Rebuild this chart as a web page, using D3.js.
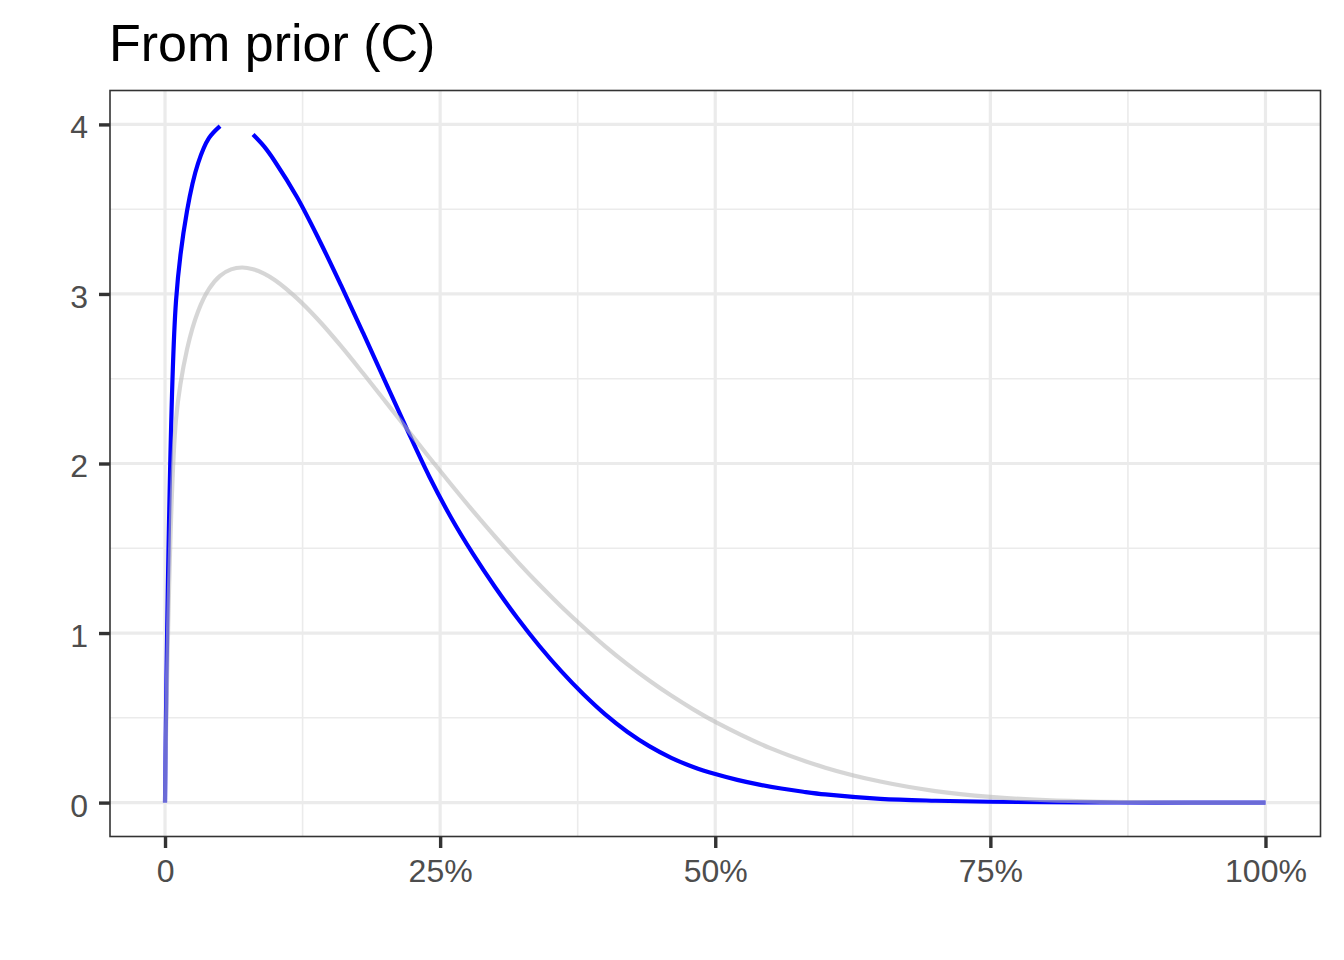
<!DOCTYPE html>
<html>
<head>
<meta charset="utf-8">
<script src="https://cdn.jsdelivr.net/npm/d3@7"></script>
<style>
  body { margin: 0; background: #fff; }
  text { font-family: "Liberation Sans", Arial, Helvetica, sans-serif; }
</style>
</head>
<body>
<script>
var width = 1344,
    height = 960;

// values
var title = "From prior (C)";

var xTicks = [0, 0.25, 0.5, 0.75, 1];
var xTickLabels = ["0", "25%", "50%", "75%", "100%"];
var xMinor = [0.125, 0.375, 0.625, 0.875];
var yTicks = [0, 1, 2, 3, 4];
var yMinor = [0.5, 1.5, 2.5, 3.5];
var yMax = 4;

var blueX = [0, 0.01, 0.02, 0.03, 0.04, 0.05, 0.06, 0.07, 0.08, 0.09, 0.10, 0.12, 0.14, 0.16, 0.18,
    0.20, 0.22, 0.24, 0.26, 0.28, 0.30, 0.32, 0.34, 0.36, 0.38, 0.40, 0.42, 0.44, 0.46, 0.48,
    0.50, 0.52, 0.54, 0.56, 0.58, 0.60, 0.65, 0.70, 0.75, 0.80, 0.85, 0.90, 0.95, 1.00];
var blueY = [0, 2.96, 3.49, 3.77, 3.92, 3.99, 4.03, 4.02, 3.94, 3.87, 3.78, 3.57, 3.32, 3.05, 2.77,
    2.485, 2.20, 1.925, 1.68, 1.465, 1.27, 1.09, 0.925, 0.775, 0.64, 0.52, 0.418, 0.333, 0.264, 0.21,
    0.168, 0.134, 0.106, 0.083, 0.064, 0.048, 0.022, 0.011, 0.005, 0.002, 0.0007, 0.0002, 0.00005, 0];

var grayX = [0, 0.01, 0.02, 0.03, 0.04, 0.05, 0.06, 0.07, 0.08, 0.09, 0.10, 0.12, 0.14, 0.16, 0.18,
    0.20, 0.22, 0.24, 0.26, 0.28, 0.30, 0.32, 0.34, 0.36, 0.38, 0.40, 0.42, 0.44, 0.46, 0.48,
    0.50, 0.55, 0.60, 0.65, 0.70, 0.75, 0.80, 0.85, 0.90, 0.95, 1.00];
var grayY = [0, 2.261, 2.673, 2.897, 3.030, 3.107, 3.145, 3.156, 3.146, 3.120, 3.081, 2.974, 2.842, 2.692, 2.532,
    2.368, 2.202, 2.037, 1.876, 1.719, 1.568, 1.423, 1.286, 1.157, 1.036, 0.922, 0.817, 0.720, 0.631, 0.550,
    0.476, 0.321, 0.206, 0.124, 0.068, 0.0336, 0.014, 0.0045, 0.0009, 0.00006, 0];

var panel = {left: 110, top: 90.5, right: 1320.5, bottom: 836.5};

var svg = d3.select('body')
    .append('svg')
    .attr('width', width)
    .attr('height', height);

var x = d3.scaleLinear()
    .domain([-0.05, 1.05])
    .range([panel.left, panel.right]);

var y = d3.scaleLinear()
    .domain([-0.2, 4.2])
    .range([panel.bottom, panel.top]);

svg.append('rect')
    .attr('x', 0).attr('y', 0)
    .attr('width', width).attr('height', height)
    .attr('fill', '#fff');

// grid
var grid = svg.append('g');
grid.selectAll('.xminor').data(xMinor).enter().append('line')
    .attr('x1', d => x(d)).attr('x2', d => x(d))
    .attr('y1', panel.top).attr('y2', panel.bottom)
    .attr('stroke', '#ebebeb').attr('stroke-width', 1.6);
grid.selectAll('.yminor').data(yMinor).enter().append('line')
    .attr('x1', panel.left).attr('x2', panel.right)
    .attr('y1', d => y(d)).attr('y2', d => y(d))
    .attr('stroke', '#ebebeb').attr('stroke-width', 1.6);
grid.selectAll('.xmajor').data(xTicks).enter().append('line')
    .attr('x1', d => x(d)).attr('x2', d => x(d))
    .attr('y1', panel.top).attr('y2', panel.bottom)
    .attr('stroke', '#ebebeb').attr('stroke-width', 3.2);
grid.selectAll('.ymajor').data(yTicks).enter().append('line')
    .attr('x1', panel.left).attr('x2', panel.right)
    .attr('y1', d => y(d)).attr('y2', d => y(d))
    .attr('stroke', '#ebebeb').attr('stroke-width', 3.2);

// curves, values above the y limit are dropped like in ggplot
var line = d3.line()
    .defined(d => d[1] <= yMax)
    .x(d => x(d[0]))
    .y(d => y(d[1]))
    .curve(d3.curveCatmullRom.alpha(0.5));

var blue = blueX.map((v, i) => [v, blueY[i]]);
var gray = grayX.map((v, i) => [v, grayY[i]]);

svg.append('path')
    .datum(blue)
    .attr('d', line)
    .attr('fill', 'none')
    .attr('stroke', '#0000ff')
    .attr('stroke-width', 4.2);

svg.append('path')
    .datum(gray)
    .attr('d', line)
    .attr('fill', 'none')
    .attr('stroke', '#b8b8b8')
    .attr('stroke-opacity', 0.58)
    .attr('stroke-width', 4.2);

// border
svg.append('rect')
    .attr('x', panel.left).attr('y', panel.top)
    .attr('width', panel.right - panel.left)
    .attr('height', panel.bottom - panel.top)
    .attr('fill', 'none')
    .attr('stroke', '#333333')
    .attr('stroke-width', 1.6);

// axes
var xAxis = d3.axisBottom(x)
    .tickValues(xTicks)
    .tickFormat((d, i) => xTickLabels[i])
    .tickSize(11.5)
    .tickPadding(11);

var yAxis = d3.axisLeft(y)
    .tickValues(yTicks)
    .tickFormat(d3.format('d'))
    .tickSize(11)
    .tickPadding(11);

var gx = svg.append('g')
    .attr('transform', 'translate(0,' + panel.bottom + ')')
    .call(xAxis);
var gy = svg.append('g')
    .attr('transform', 'translate(' + panel.left + ',0)')
    .call(yAxis);

[gx, gy].forEach(g => {
    g.select('.domain').remove();
    g.selectAll('.tick line').attr('stroke', '#333333').attr('stroke-width', 3.4);
    g.selectAll('.tick text')
        .attr('fill', '#4d4d4d')
        .style('font-size', '32px')
        .style('font-family', '"Liberation Sans", Arial, sans-serif');
});
gy.selectAll('.tick text').attr('dy', '0.42em');

svg.append('text')
    .attr('x', 109)
    .attr('y', 61)
    .attr('fill', '#000')
    .style('font-size', '52px')
    .text(title);
</script>
</body>
</html>
